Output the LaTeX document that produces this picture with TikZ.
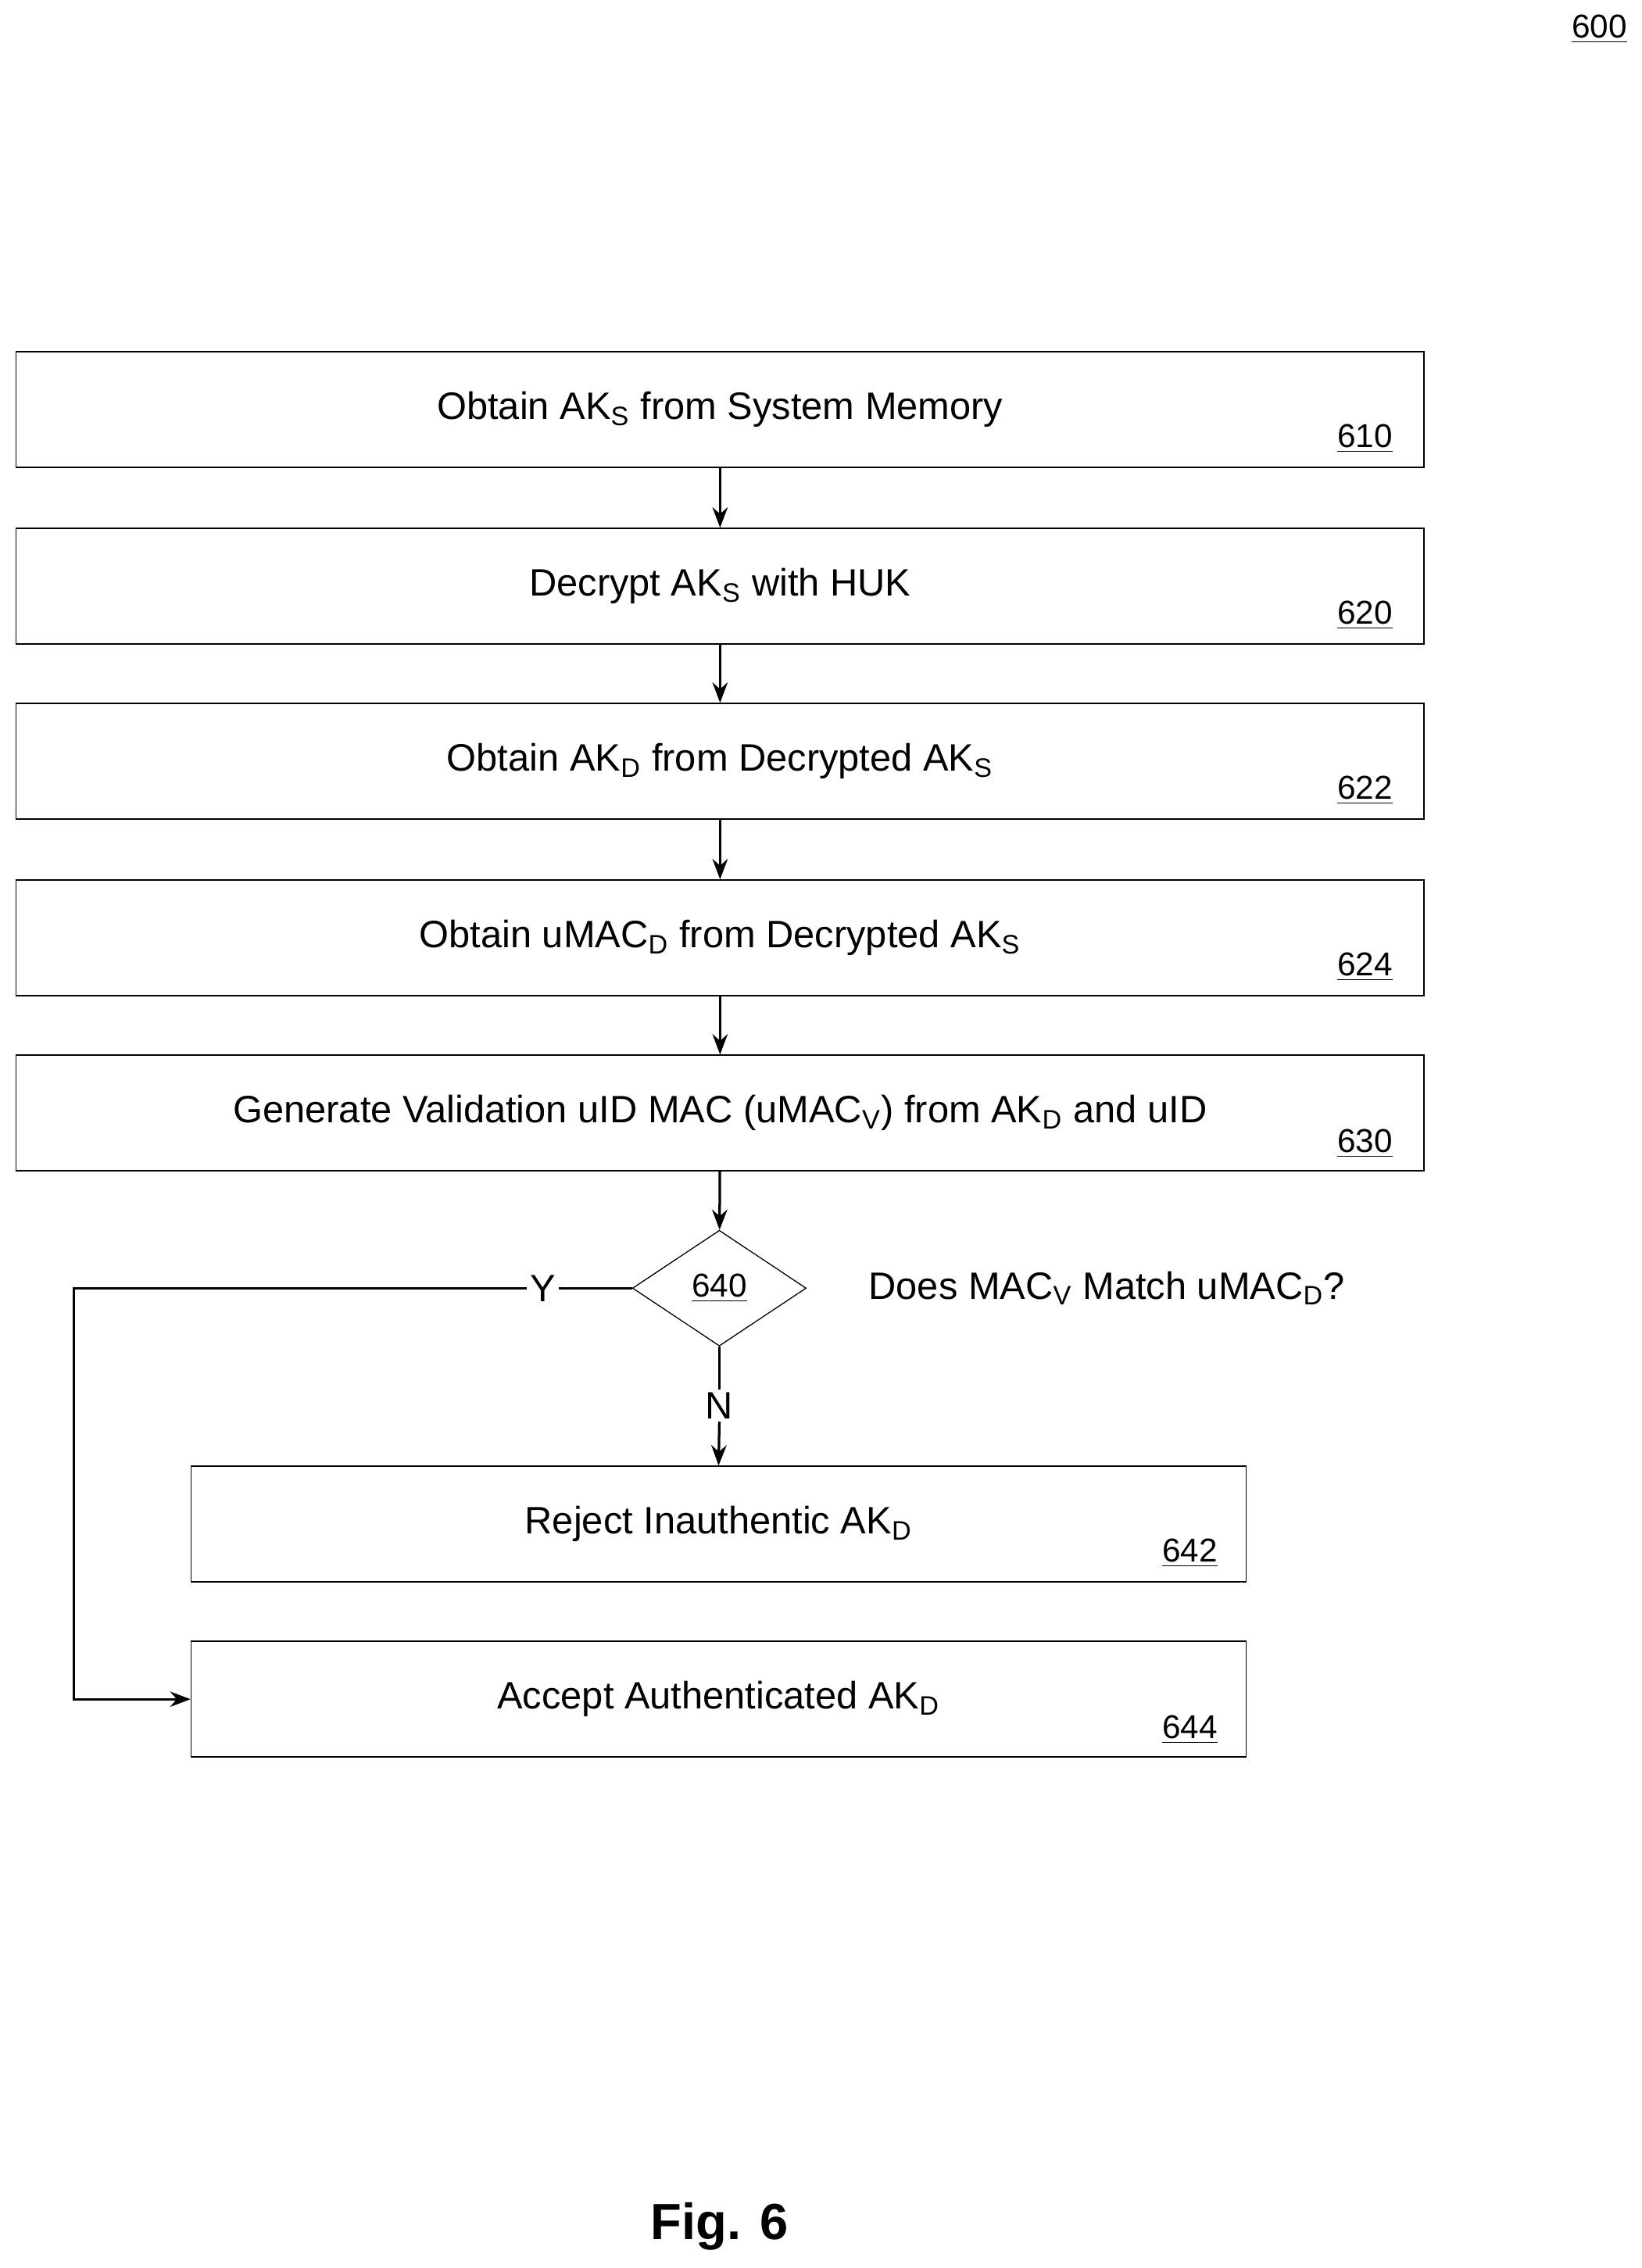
\documentclass[tikz,border=0pt]{standalone}
\usepackage{fontspec}
\setmainfont{Liberation Sans}
\usetikzlibrary{shapes.geometric,arrows.meta}
\newcommand{\sbs}[1]{\textsubscript{#1}}
\begin{document}
\begin{tikzpicture}[x=0.02cm,y=-0.02cm,
  box/.style={draw,line width=0.5pt,minimum height=1.6cm,inner sep=0pt,font=\fontsize{15}{18}\selectfont},
  wide/.style={box,minimum width=19.46cm},
  narrow/.style={box,minimum width=14.58cm},
  lbl/.style={font=\fontsize{13}{15}\selectfont},
  arr/.style={-{Stealth[length=8pt,width=6pt]},line width=1pt}]
\useasboundingbox (0,0) rectangle (1134,1567);
\node[lbl] at (1105,20) {\underline{600}};
\node[wide] (b610) at (497.5,283) {Obtain AK\sbs{S} from System Memory};
\node[wide] (b620) at (497.5,405) {Decrypt AK\sbs{S} with HUK};
\node[wide] (b622) at (497.5,526) {Obtain AK\sbs{D} from Decrypted AK\sbs{S}};
\node[wide] (b624) at (497.5,648) {Obtain uMAC\sbs{D} from Decrypted AK\sbs{S}};
\node[wide] (b630) at (497.5,769) {Generate Validation uID MAC (uMAC\sbs{V}) from AK\sbs{D} and uID};
\foreach \n/\y in {610/303,620/425,622/546,624/668,630/790}
  \node[lbl] at (943,\y) {\underline{\n}};
\node[draw,diamond,aspect=1.5,minimum width=2.4cm,minimum height=1.6cm,inner sep=0pt,line width=0.4pt,lbl] (d640) at (497,890) {\underline{640}};
\node[font=\fontsize{15}{18}\selectfont,anchor=west] at (594,890) {Does MAC\sbs{V} Match uMAC\sbs{D}?};
\node[narrow] (b642) at (496.5,1053) {Reject Inauthentic AK\sbs{D}};
\node[narrow] (b644) at (496.5,1174) {Accept Authenticated AK\sbs{D}};
\node[lbl] at (822,1073) {\underline{642}};
\node[lbl] at (822,1195) {\underline{644}};
\draw[arr] (b610) -- (b620);
\draw[arr] (b620) -- (b622);
\draw[arr] (b622) -- (b624);
\draw[arr] (b624) -- (b630);
\draw[arr] (b630) -- (d640);
\node[font=\fontsize{15}{18}\selectfont,fill=white,inner sep=1pt] (N) at (497,971) {N};
\draw[line width=1pt] (d640.south) -- (N.north);
\draw[arr] (N.south) -- (b642.north);
\node[font=\fontsize{15}{18}\selectfont,fill=white,inner sep=1pt] (Y) at (375,890) {Y};
\coordinate (c1) at (51,890);
\coordinate (c2) at (51,1174);
\draw[line width=1pt] (d640.west) -- (Y.east);
\draw[arr] (Y.west) -- (c1) -- (c2) -- (b644.west);
\node[font=\bfseries\fontsize{20}{24}\selectfont] at (497,1538) {Fig. 6};
\end{tikzpicture}
\end{document}
